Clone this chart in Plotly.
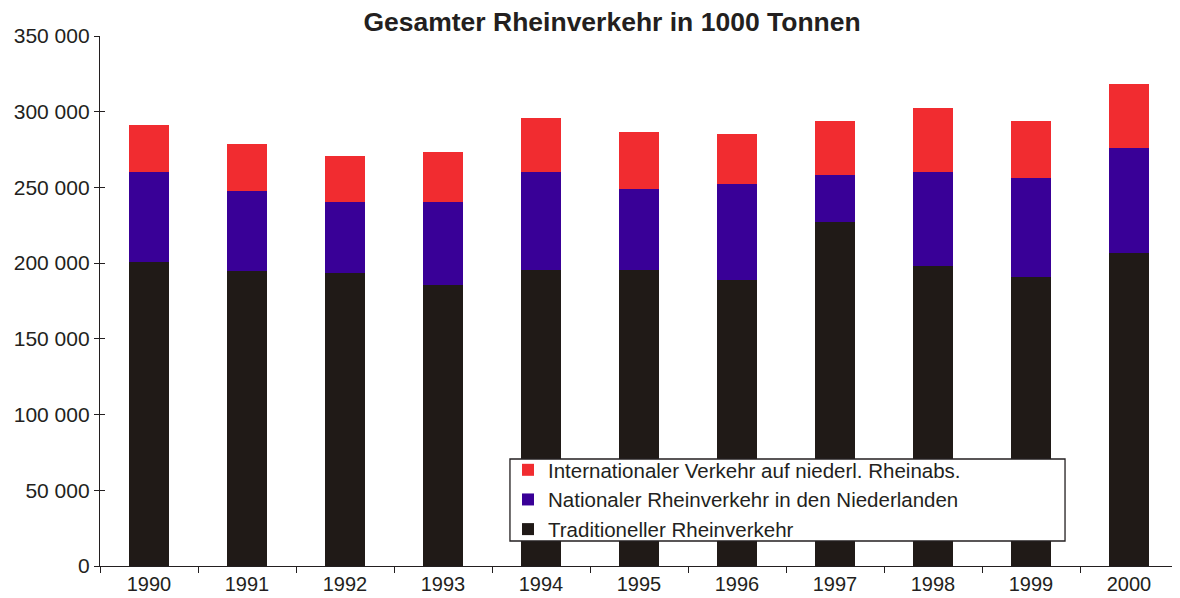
import plotly.graph_objects as go

years = ["1990", "1991", "1992", "1993", "1994", "1995", "1996", "1997", "1998", "1999", "2000"]
traditionell = [200500, 195000, 193500, 185300, 195700, 195500, 189000, 227000, 198000, 190800, 206700]
national = [59900, 52600, 47100, 55300, 64700, 53500, 63000, 31000, 62400, 65700, 69300]
international = [30800, 31100, 30400, 33000, 35600, 37400, 33300, 35900, 41800, 37100, 42000]

names = ["Traditioneller Rheinverkehr",
         "Nationaler Rheinverkehr in den Niederlanden",
         "Internationaler Verkehr auf niederl. Rheinabs."]
colors = ["#201A17", "#390097", "#F12C30"]

y_ticks = [0, 50000, 100000, 150000, 200000, 250000, 300000, 350000]
y_ticktext = ["0", "50 000", "100 000", "150 000", "200 000", "250 000", "300 000", "350 000"]

fig = go.Figure()
for vals, name, col in zip([traditionell, national, international], names, colors):
    fig.add_trace(go.Bar(x=years, y=vals, name=name, marker=dict(color=col, line=dict(width=0)),
                         width=0.4))

# invisible trace for inside y ticks (crossing ticks)
fig.add_trace(go.Scatter(x=[years[0]], y=[0], yaxis="y2", mode="markers",
                         marker=dict(opacity=0), showlegend=False, hoverinfo="skip"))

# legend frame
fig.add_shape(type="rect", xref="paper", yref="paper", x0=0.3803, x1=0.8952, y0=0.0472, y1=0.2019,
              line=dict(color="#231F20", width=1.3), fillcolor="white", layer="above")

fig.update_layout(
    width=1172, height=590,
    barmode="stack",
    bargap=0.6,
    plot_bgcolor="white", paper_bgcolor="white",
    margin=dict(l=92, r=2, t=28, b=32, autoexpand=False),
    font=dict(family="Liberation Sans, Arial, sans-serif", size=21, color="#231F20"),
    title=dict(text="<b>Gesamter Rheinverkehr in 1000 Tonnen</b>", x=0.5154, xanchor="center",
               y=0.976, yanchor="middle", font=dict(size=26.5, color="#231F20")),
    xaxis=dict(showline=True, linecolor="#231F20", linewidth=1.3, ticks="outside",
               tickson="boundaries", ticklen=6, tickcolor="#231F20", showgrid=False,
               range=[-0.5, 10.5], tickfont=dict(size=20)),
    yaxis=dict(range=[0, 350000], tickvals=y_ticks, ticktext=y_ticktext, showline=True,
               linecolor="#231F20", linewidth=1.3, ticks="outside", ticklen=5,
               tickcolor="#231F20", showgrid=False, zeroline=False, tickfont=dict(size=21)),
    yaxis2=dict(range=[0, 350000], tickvals=y_ticks, overlaying="y", side="left",
                ticks="inside", ticklen=5, tickcolor="#231F20", showticklabels=False,
                showgrid=False, zeroline=False, showline=False),
    legend=dict(x=0.3785, y=0.2189, xanchor="left", yanchor="top", traceorder="reversed",
                borderwidth=0, bgcolor="rgba(0,0,0,0)",
                font=dict(size=20.5), tracegroupgap=0),
    showlegend=True,
)

fig.write_html("out.html")
